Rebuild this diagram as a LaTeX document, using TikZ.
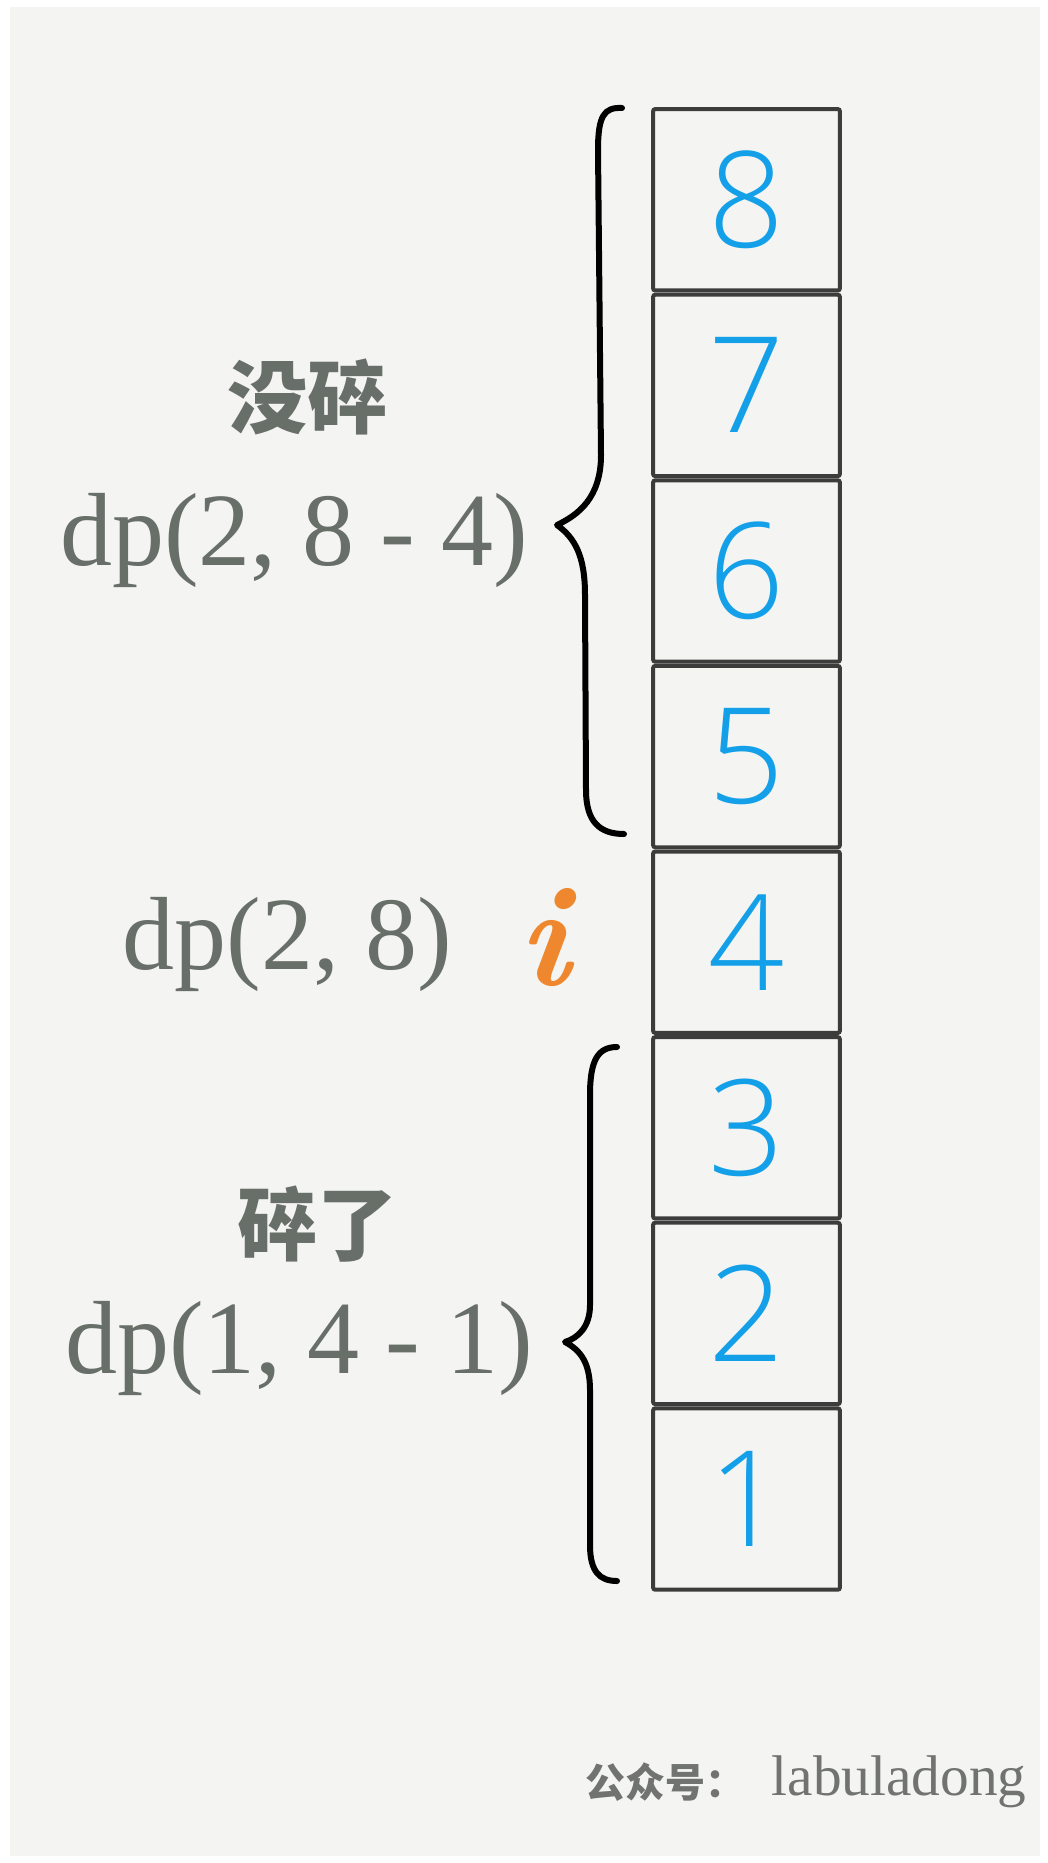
\documentclass[tikz,border=0pt]{standalone}
\usepackage{fontspec}
\setmainfont{Liberation Serif}
\newfontfamily\cjk{Noto Sans CJK SC}
\newfontfamily\hand{Open Sans}[UprightFont={* Light}]
\newfontfamily\lmr{Latin Modern Roman}

\definecolor{paper}{RGB}{244,244,242}
\definecolor{boxline}{RGB}{60,60,60}
\definecolor{digitblue}{RGB}{20,160,232}
\definecolor{labelgray}{RGB}{104,110,104}
\definecolor{iorange}{RGB}{238,135,45}
\definecolor{markgray}{RGB}{112,115,112}

\tikzset{every picture/.style={line width=0.75pt}}

\begin{document}
\begin{tikzpicture}[x=0.75pt,y=0.75pt,yscale=-1,xscale=1,
    cell/.style={draw=boxline,line width=3pt,rounded corners=1.5pt,minimum width=140pt,minimum height=136pt,inner sep=0pt,
      font=\hand\fontsize{100}{100}\selectfont,text=digitblue},
    lbl/.style={text=labelgray,inner sep=0.75pt,font=\fontsize{78}{80}\selectfont},
    cn/.style={text=labelgray,inner sep=0.75pt,font=\cjk\bfseries\fontsize{60}{60}\selectfont},
    brace/.style={line width=4.5pt,line cap=round,line join=round}]

\useasboundingbox (0,0) rectangle (1048,1863);
% paper
\fill[white] (0,0) rectangle (1048,1863);
\fill[paper] (10,7) rectangle (1040,1856);

% the eight floors, 1 at the bottom
\foreach \k in {1,...,8}
  \node[cell] (b\k) at (746.5,{1499-(\k-1)*185.6}) {\k};

%Shape: Brace over floors 5..8
\draw[brace] (622,108) .. controls (604,107) and (598,116) .. (598,150) -- (601,455)
  .. controls (601,498) and (578,515) .. (557,525)
  .. controls (575,538) and (585,556) .. (585,595) -- (586,790)
  .. controls (586,822) and (600,834) .. (624,834);
%Shape: Brace over floors 1..3
\draw[brace] (617,1047) .. controls (598,1047) and (590,1060) .. (590,1095) -- (590,1305)
  .. controls (590,1327) and (578,1338) .. (565,1342)
  .. controls (580,1350) and (590,1362) .. (590,1390) -- (590,1545)
  .. controls (590,1572) and (600,1581) .. (617,1581);

% Text Node
\node[cn] (intact) at (307,397) {没碎};
% Text Node
\node[lbl] (dpup) at (294,540) {dp(2, 8 - 4)};
% Text Node
\node[lbl] (dpall) at (287,944) {dp(2, 8)};
% Text Node
\node[text=iorange,inner sep=0pt,font=\lmr\bfseries\itshape\fontsize{108}{108}\selectfont] (floori) at (544,938) {i};
% Text Node
\node[cn] (broken) at (317,1224) {碎了};
% Text Node
\node[lbl] (dpdown) at (299,1348) {dp(1, 4 - 1)};

% Text Node
\node[anchor=west,text=markgray,inner sep=0pt,font=\cjk\bfseries\fontsize{30}{30}\selectfont] (mark) at (585,1782) {公众号：};
\node[anchor=east,text=markgray,inner sep=0pt,font=\fontsize{43}{43}\selectfont] (markname) at (1027,1782) {labuladong};

\end{tikzpicture}
\end{document}
